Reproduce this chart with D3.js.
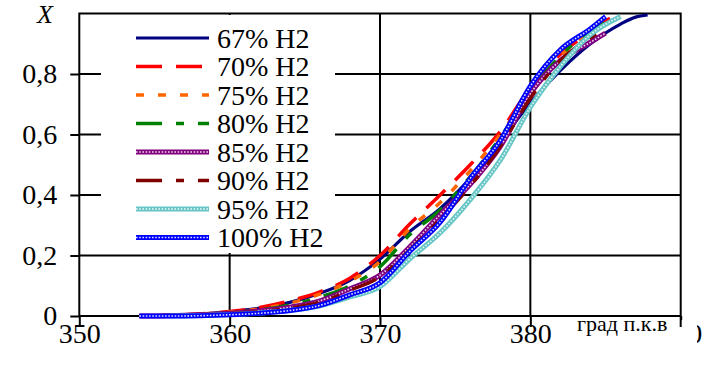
<!DOCTYPE html>
<html><head><meta charset="utf-8">
<script src="https://cdn.jsdelivr.net/npm/d3@7"></script>
<style>body{margin:0;background:#fff}svg{display:block}</style>
</head><body><svg id="c" width="715" height="374"></svg>
<script>
const seriesNames = ["67% H2","70% H2","75% H2","80% H2","85% H2","90% H2","95% H2","100% H2"];
const s67  = [[354,0],[356,0.002],[358,0.006],[360,0.014],[362,0.026],[364,0.045],[366,0.075],[368,0.118],[370,0.188],[372,0.28],[374,0.355],[376,0.455],[378,0.575],[380,0.705],[382,0.812],[384,0.9],[386,0.965],[387,0.988],[387.8,0.995]];
const s70  = [[354,0],[356,0.002],[358,0.007],[360,0.015],[362,0.028],[364,0.05],[366,0.08],[368,0.125],[370,0.2],[372,0.305],[374,0.4],[376,0.5],[378,0.61],[380,0.755],[382,0.865],[384,0.94],[385,0.975],[385.8,1.0]];
const s75  = [[354,0],[356,0.002],[358,0.006],[360,0.013],[362,0.024],[364,0.043],[366,0.072],[368,0.115],[370,0.18],[372,0.29],[374,0.375],[376,0.48],[378,0.6],[380,0.74],[382,0.86],[384,0.935],[386,0.99]];
const s80  = [[354,0],[356,0.001],[358,0.005],[360,0.011],[362,0.02],[364,0.036],[366,0.062],[368,0.1],[370,0.163],[372,0.27],[374,0.35],[376,0.46],[378,0.59],[380,0.74],[382,0.86],[384,0.94],[385,0.97]];
const s85  = [[354,0],[356,0.001],[358,0.004],[360,0.009],[362,0.017],[364,0.029],[366,0.05],[368,0.09],[370,0.135],[372,0.23],[374,0.335],[376,0.435],[378,0.56],[380,0.735],[382,0.845],[384,0.905],[385,0.935]];
const s90  = [[356,0],[358,0.003],[360,0.008],[362,0.015],[364,0.026],[366,0.046],[368,0.085],[370,0.13],[372,0.22],[374,0.32],[376,0.43],[378,0.56],[380,0.72],[382,0.845],[384,0.92],[385,0.95]];
const s95  = [[356,0],[358,0.002],[360,0.005],[362,0.01],[364,0.018],[366,0.034],[368,0.063],[370,0.097],[372,0.19],[374,0.275],[376,0.385],[378,0.515],[380,0.69],[382,0.825],[384,0.93],[386,0.99]];
const s100 = [[354,0],[356,0],[358,0.001],[360,0.004],[362,0.009],[364,0.018],[366,0.035],[368,0.07],[370,0.11],[372,0.215],[374,0.31],[376,0.455],[378,0.58],[380,0.76],[382,0.88],[384,0.95],[385,0.99]];
const seriesData = [s67,s70,s75,s80,s85,s90,s95,s100];
const xTicks = [350,360,370,380,390];
const yTicks = [0,0.2,0.4,0.6,0.8];
const yTickLabels = ["0","0,2","0,4","0,6","0,8"];

const FONT = '"Liberation Serif"';
const styles = [
  {c:"#000080", w:3.2},
  {c:"#ff0000", w:3.5, dash:"26,14"},
  {c:"#ff6600", w:3.5, dash:"8,14"},
  {c:"#008000", w:3.5, dash:"26,14,8,14"},
  {c:"#800080", w:5, tex:true},
  {c:"#800000", w:3.5, dash:"26,14,8,14"},
  {c:"#66c6c6", w:5, tex:true},
  {c:"#0000ff", w:5, tex:true}
];

const svg = d3.select("#c");
const x = d3.scaleLinear().domain([350,390]).range([79.3,680.7]);
const y = d3.scaleLinear().domain([0,1]).range([316,13.5]);

// grid
const g = svg.append("g");
g.selectAll(".hg").data(yTicks.slice(1)).join("line")
  .attr("x1",x(350)).attr("x2",x(390)).attr("y1",d=>y(d)).attr("y2",d=>y(d))
  .attr("stroke","#000").attr("stroke-width",2);
g.selectAll(".vg").data(xTicks.slice(1,-1)).join("line")
  .attr("x1",d=>x(d)).attr("x2",d=>x(d)).attr("y1",y(0)).attr("y2",y(1))
  .attr("stroke","#000").attr("stroke-width",2);

// legend background (covers grid)
svg.append("rect").attr("x",101).attr("y",15).attr("width",234).attr("height",238).attr("fill","#fff");

// axes
const xAxis = d3.axisBottom(x).tickValues(xTicks).tickSize(11).tickFormat(d3.format("d"));
const ax = svg.append("g").attr("transform",`translate(0,${y(0)})`).call(xAxis);
ax.select(".domain").remove();
ax.selectAll(".tick line").attr("stroke","#000").attr("stroke-width",2);
ax.selectAll(".tick text").attr("y",7).attr("dy","0.71em").style("font-family",FONT).style("font-size","28px").attr("fill","#000");
const yAxis = d3.axisLeft(y).tickValues(yTicks).tickSize(9).tickFormat((d,i)=>yTickLabels[i]);
const ay = svg.append("g").attr("transform",`translate(${x(350)},0)`).call(yAxis);
ay.select(".domain").remove();
ay.selectAll(".tick line").attr("stroke","#000").attr("stroke-width",2);
ay.selectAll(".tick text").attr("x",-22).style("font-family",FONT).style("font-size","28px").attr("fill","#000");

// frame
svg.append("rect").attr("x",x(350)).attr("y",y(1)).attr("width",x(390)-x(350)).attr("height",y(0)-y(1))
  .attr("fill","none").attr("stroke","#000").attr("stroke-width",2);

// series
const line = d3.line().x(d=>x(d[0])).y(d=>y(d[1])).curve(d3.curveMonotoneX);
const sg = svg.append("g");
seriesData.forEach((data,i)=>{
  const st = styles[i];
  const p = sg.append("path").attr("d",line(data)).attr("fill","none").attr("stroke",st.c).attr("stroke-width",st.w);
  if(st.dash) p.attr("stroke-dasharray",st.dash);
  if(st.tex){
    sg.append("path").attr("d",line(data)).attr("fill","none").attr("stroke","#fff").attr("stroke-width",1.6)
      .attr("stroke-dasharray","1.6,1.6").attr("opacity",0.85);
  }
});

// legend
const lg = svg.append("g");
seriesNames.forEach((name,i)=>{
  const st = styles[i];
  const yy = 38 + i*28.5;
  const l = lg.append("line").attr("x1",136).attr("x2",209).attr("y1",yy).attr("y2",yy)
    .attr("stroke",st.c).attr("stroke-width",st.w);
  if(st.dash) l.attr("stroke-dasharray",st.dash);
  if(st.tex) lg.append("line").attr("x1",136).attr("x2",209).attr("y1",yy).attr("y2",yy)
    .attr("stroke","#fff").attr("stroke-width",1.6).attr("stroke-dasharray","1.6,1.6").attr("opacity",0.85);
  lg.append("text").attr("x",217).attr("y",yy).attr("dy","0.35em").style("font-family",FONT).style("font-size","28px").text(name);
});

// axis titles
svg.append("text").attr("x",45).attr("y",23).attr("text-anchor","middle").style("font-family",FONT).style("font-size","26px").style("font-style","italic").text("X");
svg.append("rect").attr("x",572).attr("y",320).attr("width",125).attr("height",50).attr("fill","#fff");
svg.append("line").attr("x1",x(390)).attr("x2",x(390)).attr("y1",y(0)).attr("y2",y(0)+11).attr("stroke","#000").attr("stroke-width",2);
svg.append("text").attr("x",577).attr("y",331).style("font-family",FONT).style("font-size","22px").text("град п.к.в");
</script></body></html>
